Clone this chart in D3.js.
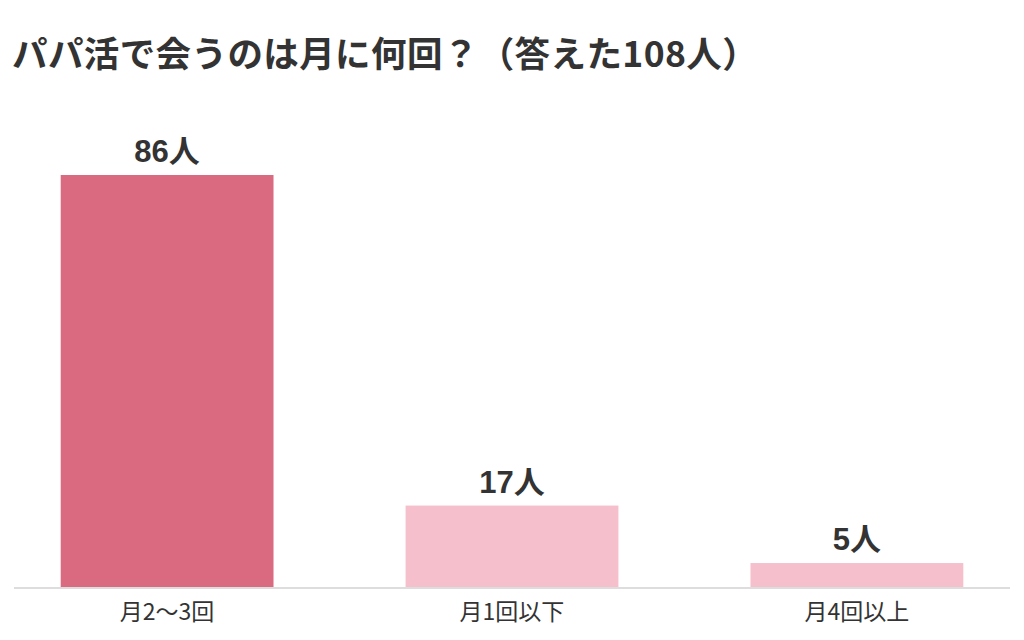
<!DOCTYPE html>
<html>
<head>
<meta charset="utf-8">
<script src="https://cdn.jsdelivr.net/npm/d3@7"></script>
<style>
  body { margin: 0; background: #fff; }
  svg { display: block; }
</style>
</head>
<body>
<div id="visArea"></div>
<script>

var categories = ['月2〜3回', '月1回以下', '月4回以上'];
var counts = [86, 17, 5];
var unit = '人';
var title = 'パパ活で会うのは月に何回？（答えた108人）';

function drawGraph(){
  var w = 1024, h = 640;
  var base = 587;

  var svg = d3.select('#visArea')
              .append('svg')
              .attr('width', w)
              .attr('height', h);

  svg.append('text')
    .attr('x', 12)
    .attr('y', 67)
    .text(title)
    .style('font-family', '"Noto Sans CJK JP", sans-serif')
    .style('font-weight', 'bold')
    .style('font-size', '35.5px')
    .style('letter-spacing', '0.4px')
    .style('fill', '#333333');

  var x = d3.scaleBand()
            .domain(categories)
            .range([0, w])
            .paddingInner(0.383)
            .paddingOuter(0.176);

  var y = d3.scaleLinear()
            .domain([0, 86])
            .range([base, 175]);

  var data = categories.map(function(c, i){ return { cat: c, v: counts[i] }; });

  svg.append('g').attr('class', 'bars')
    .selectAll('rect')
    .data(data)
    .enter()
    .append('rect')
    .attr('x', function(d){ return x(d.cat); })
    .attr('y', function(d){ return y(d.v); })
    .attr('width', x.bandwidth())
    .attr('height', function(d){ return base - y(d.v); })
    .attr('fill', function(d, i){ return i == 0 ? '#d96a80' : '#f5bfcb'; });

  // baseline
  svg.append('line')
    .attr('x1', 14).attr('x2', 1010)
    .attr('y1', base + 1).attr('y2', base + 1)
    .style('stroke', '#dddddd')
    .style('stroke-width', 2);

  // value labels
  var vl = svg.append('g').attr('class', 'labels values')
    .selectAll('text')
    .data(data)
    .enter()
    .append('text')
    .attr('x', function(d){ return x(d.cat) + x.bandwidth()/2; })
    .attr('y', function(d){ return y(d.v) - 13; })
    .style('text-anchor', 'middle')
    .style('font-weight', 'bold')
    .style('font-size', '31px')
    .style('fill', '#333333');
  vl.append('tspan')
    .text(function(d){ return d.v; })
    .style('font-family', '"Liberation Sans", Arial, sans-serif');
  vl.append('tspan')
    .text(unit)
    .style('font-family', '"Noto Sans CJK JP", sans-serif');

  // category labels
  svg.append('g').attr('class', 'labels cats')
    .selectAll('text')
    .data(data)
    .enter()
    .append('text')
    .attr('x', function(d){ return x(d.cat) + x.bandwidth()/2; })
    .attr('y', 620)
    .text(function(d){ return d.cat; })
    .style('text-anchor', 'middle')
    .style('font-family', '"Noto Sans CJK JP", sans-serif')
    .style('font-size', '23px')
    .style('fill', '#333333');
}

drawGraph();
</script>
</body>
</html>
